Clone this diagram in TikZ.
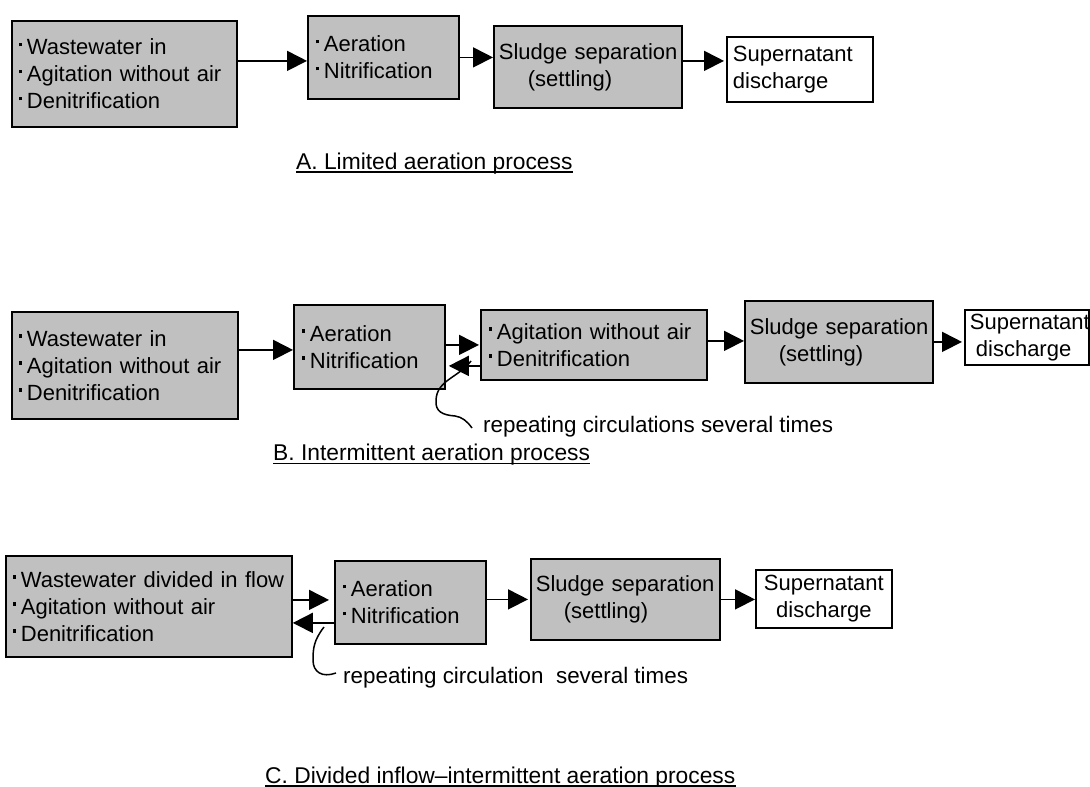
\documentclass[tikz,border=0pt]{standalone}
\usepackage{fontspec}
\setmainfont{Liberation Sans}
\usetikzlibrary{arrows.meta,calc}
\definecolor{boxgray}{RGB}{192,192,192}
\newcommand\bul{\rule[8.5pt]{3.5pt}{3.5pt}\hspace{4.5pt}}
\newcommand\bline[1]{\mbox{\bul #1}}
\begin{document}
\begin{tikzpicture}[x=1pt,y=-1pt,
  bx/.style={draw, line width=1.8pt, fill=boxgray, anchor=north west, inner ysep=0pt,
    align=left, font=\fontsize{22}{27}\selectfont},
  wbx/.style={bx, fill=white},
  arr/.style={line width=1.7pt, -{Triangle[length=20pt,width=20pt]}},
  lbl/.style={inner sep=0pt, anchor=base west, font=\fontsize{22.8}{27}\selectfont},
  note/.style={inner sep=0pt, anchor=base west, font=\fontsize{22.4}{27}\selectfont},
  uline/.style={line width=1.6pt},
  curve/.style={line width=1.5pt}]
\useasboundingbox (0,0) rectangle (1090,787);

% ---------- A ----------
\node[bx, inner xsep=7pt, text width=211pt, minimum height=106pt] (A1) at (11,20)
  {\bline{Wastewater in}\\ \bline{Agitation without air}\\ \bline{Denitrification}};
\node[bx, inner xsep=8pt, text width=135pt, minimum height=83pt] (A2) at (307,15)
  {\bline{Aeration}\\ \bline{Nitrification}};
\node[bx, inner xsep=5pt, text width=178pt, minimum height=82pt] (A3) at (493,25)
  {\mbox{Sludge separation}\\ \hspace*{29pt}(settling)};
\node[wbx, inner xsep=6pt, text width=134pt, minimum height=65pt] (A4) at (726,36)
  {Supernatant\\ discharge};

\coordinate (a1) at ([yshift=-3.5pt]A2.west);
\draw[arr] (A1.east |- a1) -- (a1);
\draw[arr] (A2.east) -- (A2.east -| A3.west);
\coordinate (a3) at ([yshift=6pt]A3.east);
\draw[arr, shorten >=2pt] (a3) -- (a3 -| A4.west);

\node[lbl] (labA) at (296,169.5) {A. Limited aeration process};
\draw[uline] ([yshift=-2.5pt]labA.base west) -- ([yshift=-2.5pt]labA.base east);

% ---------- B ----------
\node[bx, inner xsep=7pt, text width=212pt, minimum height=107pt] (B1) at (11,311)
  {\bline{Wastewater in}\\ \bline{Agitation without air}\\ \bline{Denitrification}};
\node[bx, inner xsep=8pt, text width=135pt, minimum height=84pt] (B2) at (293,304)
  {\bline{Aeration}\\ \bline{Nitrification}};
\node[bx, inner xsep=8pt, text width=210pt, minimum height=70pt] (B3) at (480,309)
  {\bline{Agitation without air}\\ \bline{Denitrification}};
\node[bx, inner xsep=5pt, text width=178pt, minimum height=82pt] (B4) at (744,300)
  {\mbox{Sludge separation}\\ \hspace*{29pt}(settling)};
\node[wbx, inner xsep=5pt, text width=114pt, minimum height=55pt] (B5) at (964,309)
  {\mbox{Supernatant}\\ \hspace*{6pt}discharge};

\coordinate (b1) at ([yshift=-3pt]B2.west);
\draw[arr] (B1.east |- b1) -- (b1);
\draw[arr, shorten >=1pt] (B2.east |- B3.west) -- (B3.west);
\coordinate (b2) at ([yshift=-21pt]B3.west);
\draw[arr, shorten >=3pt] (b2) -- (b2 -| B2.east);
\coordinate (b3) at ([yshift=4pt]B3.east);
\draw[arr] (b3) -- (b3 -| B4.west);
\draw[arr, shorten >=2pt] (B4.east) -- (B4.east -| B5.west);

\node[note] (rptB) at (483,432) {repeating circulations several times};
\coordinate (qb0) at (471,361);
\coordinate (qb1) at (472,428);
\draw[curve] (qb0) .. controls (458,378) and (437,380) .. (436,400)
  .. controls (435,412) and (443,415) .. (455,416)
  .. controls (462,417) and (467,421) .. (qb1);

\node[lbl] (labB) at (273,460) {B. Intermittent aeration process};
\draw[uline] ([yshift=-3.5pt]labB.base west) -- ([yshift=-3.5pt]labB.base east);

% ---------- C ----------
\node[bx, inner xsep=7pt, text width=272pt, minimum height=101pt] (C1) at (5,555)
  {\bline{Wastewater divided in flow}\\ \bline{Agitation without air}\\ \bline{Denitrification}};
\node[bx, inner xsep=8pt, text width=135pt, minimum height=83pt] (C2) at (334,560)
  {\bline{Aeration}\\ \bline{Nitrification}};
\node[bx, inner xsep=5pt, text width=179pt, minimum height=81pt] (C3) at (530,558)
  {\mbox{Sludge separation}\\ \hspace*{28pt}(settling)};
\node[wbx, inner xsep=5pt, text width=126pt, minimum height=58pt, align=center] (C4) at (755,569)
  {Supernatant\\ discharge};

\coordinate (c1) at ([yshift=2.5pt]C2.west);
\draw[arr, shorten >=5pt] (C1.east |- c1) -- (c1);
\coordinate (c2) at ([yshift=-20.5pt]C2.west);
\draw[arr] (c2) -- (c2 -| C1.east);
\draw[arr, shorten >=2pt] (C2.east |- C3.west) -- (C3.west);
\draw[arr] (C3.east) -- (C3.east -| C4.west);

\node[note] (rptC) at (343,683) {repeating circulation\ \ several times};
\coordinate (qc0) at (324,627);
\coordinate (qc1) at (336,673);
\draw[curve] (qc0) .. controls (314,640) and (313,648) .. (313,660)
  .. controls (313,672) and (322,678) .. (qc1);

\node[lbl] (labC) at (265,783) {C. Divided inflow–intermittent aeration process};
\draw[uline] ([yshift=-3pt]labC.base west) -- ([yshift=-3pt]labC.base east);
\end{tikzpicture}
\end{document}
